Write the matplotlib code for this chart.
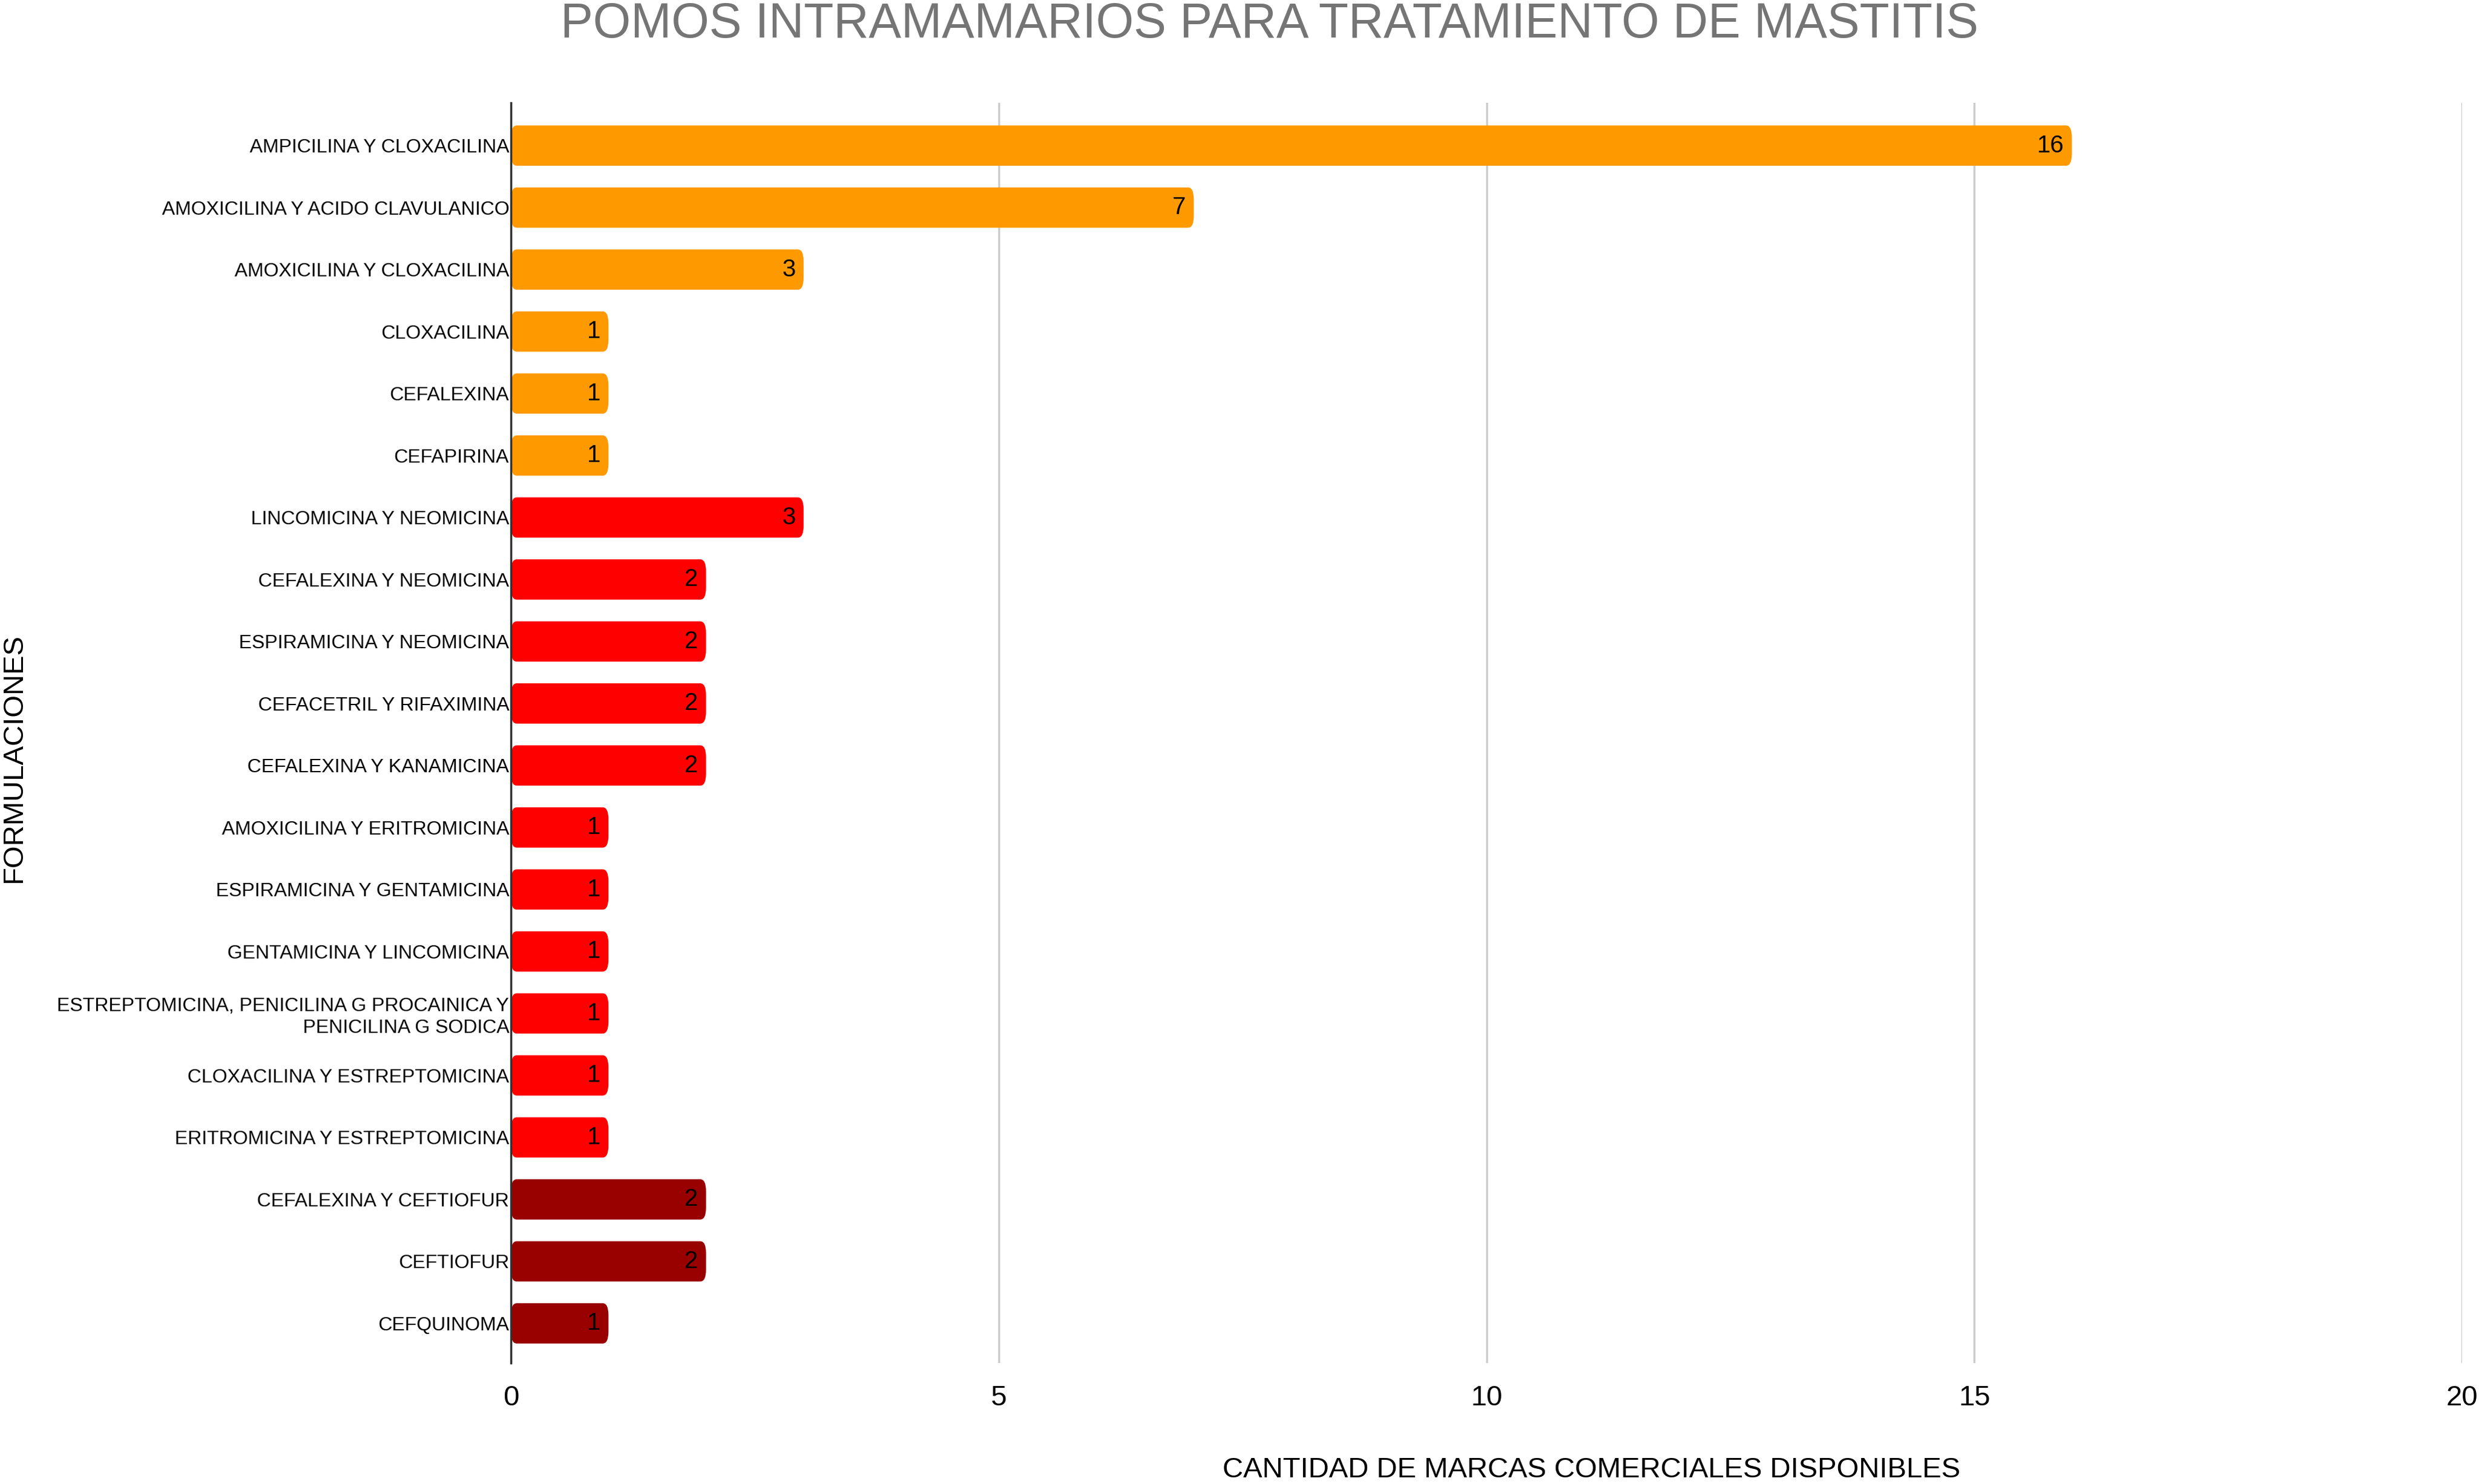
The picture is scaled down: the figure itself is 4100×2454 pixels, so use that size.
import matplotlib
matplotlib.use("Agg")
import matplotlib.pyplot as plt
from matplotlib.patches import FancyBboxPatch

categories = [
    "AMPICILINA Y CLOXACILINA",
    "AMOXICILINA Y ACIDO CLAVULANICO",
    "AMOXICILINA Y CLOXACILINA",
    "CLOXACILINA",
    "CEFALEXINA",
    "CEFAPIRINA",
    "LINCOMICINA Y NEOMICINA",
    "CEFALEXINA Y NEOMICINA",
    "ESPIRAMICINA Y NEOMICINA",
    "CEFACETRIL Y RIFAXIMINA",
    "CEFALEXINA Y KANAMICINA",
    "AMOXICILINA Y ERITROMICINA",
    "ESPIRAMICINA Y GENTAMICINA",
    "GENTAMICINA Y LINCOMICINA",
    "ESTREPTOMICINA, PENICILINA G PROCAINICA Y\nPENICILINA G SODICA",
    "CLOXACILINA Y ESTREPTOMICINA",
    "ERITROMICINA Y ESTREPTOMICINA",
    "CEFALEXINA Y CEFTIOFUR",
    "CEFTIOFUR",
    "CEFQUINOMA",
]
values = [16, 7, 3, 1, 1, 1, 3, 2, 2, 2, 2, 1, 1, 1, 1, 1, 1, 2, 2, 1]
groups = ["a"] * 6 + ["b"] * 11 + ["c"] * 3
group_colors = {"a": "#FF9900", "b": "#FF0000", "c": "#990000"}
xticks = [0, 5, 10, 15, 20]

plt.rcParams['font.family'] = ['Liberation Sans Narrow', 'Liberation Sans', 'DejaVu Sans']

fig = plt.figure(figsize=(41, 24.54), dpi=100)
ax = fig.add_axes([845 / 4100, 1 - 2254 / 2454, (4072 - 845) / 4100, (2254 - 170) / 2454])

ypos = list(range(len(categories)))
colors = [group_colors[g] for g in groups]
bars = ax.barh(ypos, values, height=0.65, color=colors, zorder=3)

# round the bar corners
for b in bars:
    x, y = b.get_xy()
    w, h = b.get_width(), b.get_height()
    p = FancyBboxPatch((x, y), w, h, boxstyle="round,pad=0,rounding_size=0.06",
                       mutation_aspect=3.2,
                       facecolor=b.get_facecolor(), edgecolor="none", zorder=3)
    b.set_visible(False)
    ax.add_patch(p)

for yv, v in zip(ypos, values):
    ax.text(v - 0.08, yv, str(v), ha="right", va="center", fontsize=29,
            color="black", zorder=4, family=['Liberation Sans', 'DejaVu Sans'])

ax.set_xlim(0, 20)
ax.set_ylim(19.64, -0.69)
ax.set_xticks(xticks)
ax.set_xticklabels([str(t) for t in xticks], fontsize=34,
                   family=['Liberation Sans', 'DejaVu Sans'])
ax.set_yticks(ypos)
ax.set_yticklabels(categories, fontsize=23, linespacing=1.25)
ax.tick_params(axis="both", length=0)
ax.tick_params(axis="x", pad=26)
ax.tick_params(axis="y", pad=2)

ax.grid(axis="x", color="#cccccc", linewidth=2.5, zorder=0)
ax.grid(axis="y", visible=False)
for s in ["top", "right", "bottom"]:
    ax.spines[s].set_visible(False)
ax.spines["left"].set_color("#333333")
ax.spines["left"].set_linewidth(2.5)
ax.spines["left"].set_zorder(5)

fig.text(0.512, 0.9988, "POMOS INTRAMAMARIOS PARA TRATAMIENTO DE MASTITIS",
         ha="center", va="top", fontsize=58, color="#757575",
         family=['Liberation Sans', 'DejaVu Sans'])
fig.text(0.642, 0.0005, "CANTIDAD DE MARCAS COMERCIALES DISPONIBLES",
         ha="center", va="bottom", fontsize=34, color="black",
         family=['Liberation Sans', 'DejaVu Sans'])
fig.text(0.0002, 0.489, "FORMULACIONES", ha="left", va="center", rotation=90,
         fontsize=34, color="black", family=['Liberation Sans', 'DejaVu Sans'])

fig.savefig("out.png", dpi=100, facecolor="white")
